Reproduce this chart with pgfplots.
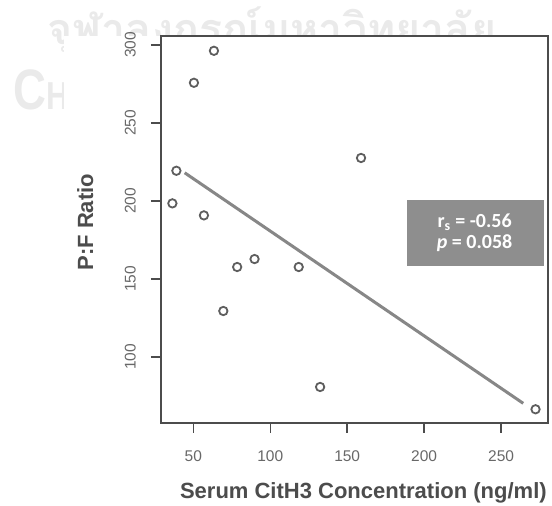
\documentclass[border=0pt]{standalone}
\usepackage{fontspec}
\setmainfont{Liberation Sans}
\newfontfamily\carlito{Carlito}
\newfontfamily\thaifont[Script=Thai]{Loma}
\usepackage{pgfplots}
\pgfplotsset{compat=1.18}
\usetikzlibrary{backgrounds}
\definecolor{axisgray}{HTML}{4C4C4C}
\definecolor{labgray}{HTML}{686868}
\definecolor{ptgray}{HTML}{5E5E5E}
\definecolor{fitgray}{HTML}{878787}
\definecolor{boxgray}{HTML}{8E8E8E}
\definecolor{wm}{HTML}{EAEAEA}

\begin{document}
\begin{tikzpicture}[x=1pt,y=1pt]
\begin{axis}[
  at={(161pt,83pt)}, anchor=south west,
  width=387pt, height=387pt, scale only axis,
  xmin=29, xmax=280.5, ymin=57.7, ymax=305.8,
  xtick={50,100,150,200,250}, ytick={100,150,200,250,300},
  xtick pos=bottom, ytick pos=left,
  tick align=outside, major tick length=10pt,
  axis line style={axisgray, line width=1.7pt},
  tick style={axisgray, line width=1.4pt},
  /pgf/number format/assume math mode=true,
  tick label style={font=\fontsize{15.5}{15.5}\selectfont, text=labgray, inner sep=0pt},
  xticklabel style={anchor=north, yshift=-17pt},
  yticklabel style={rotate=90, anchor=south, yshift=15pt},
  xlabel={Serum CitH3 Concentration (ng/ml)},
  ylabel={P:F Ratio},
  xlabel style={at={(axis description cs:0.523,-0.196)}, anchor=base, inner sep=0pt,
    font=\bfseries\fontsize{22}{22}\selectfont, text=axisgray},
  ylabel style={at={(axis description cs:-0.196,0.519)}, anchor=center, inner sep=0pt,
    font=\bfseries\fontsize{22}{22}\selectfont, text=axisgray},
]
\addplot[only marks, mark=o, mark size=4.2pt, mark options={line width=1.8pt, ptgray}] coordinates {
  (63.4,296.3) (50.4,275.8) (39.0,219.4) (36.4,198.5) (56.9,190.8) (159.0,227.6)
  (78.5,157.7) (89.8,162.8) (118.5,157.7) (69.5,129.5) (132.4,80.8) (272.4,66.5)};
\addplot[fitgray, line width=3pt] coordinates {(44.4,218.1) (264.4,70.3)};
\fill[boxgray] (axis cs:189,158.3) rectangle (axis cs:277.8,200.6);
\node[text=white, font=\carlito\bfseries\fontsize{20}{21}\selectfont, align=center]
  at (axis cs:232.8,179.5) {r\textsubscript{s} = -0.56\\\textit{p} = 0.058};
\end{axis}
% faint page watermark behind the figure
\begin{pgfonlayer}{background}
\node[anchor=base west, inner sep=0, text=wm, font=\bfseries\fontsize{30}{30}\selectfont, xscale=0.8] at (100,511)
  {CHULALONGKORN UNIVERSITY};
\node[anchor=base west, inner sep=0, text=wm, font=\thaifont\bfseries\fontsize{43}{43}\selectfont] at (47,461) {จุฬาลงกรณ์มหาวิทยาลัย};
\node[anchor=base west, inner sep=0, text=wm, font=\bfseries, xscale=0.8] at (13,396)
  {\fontsize{57}{57}\selectfont C\fontsize{39}{39}\selectfont HULALONGKORN UNIVERSITY};
\fill[white] (64,0) rectangle (552,470);
\end{pgfonlayer}
\pgfresetboundingbox
\useasboundingbox (0,0) rectangle (552,506);
\end{tikzpicture}
\end{document}
